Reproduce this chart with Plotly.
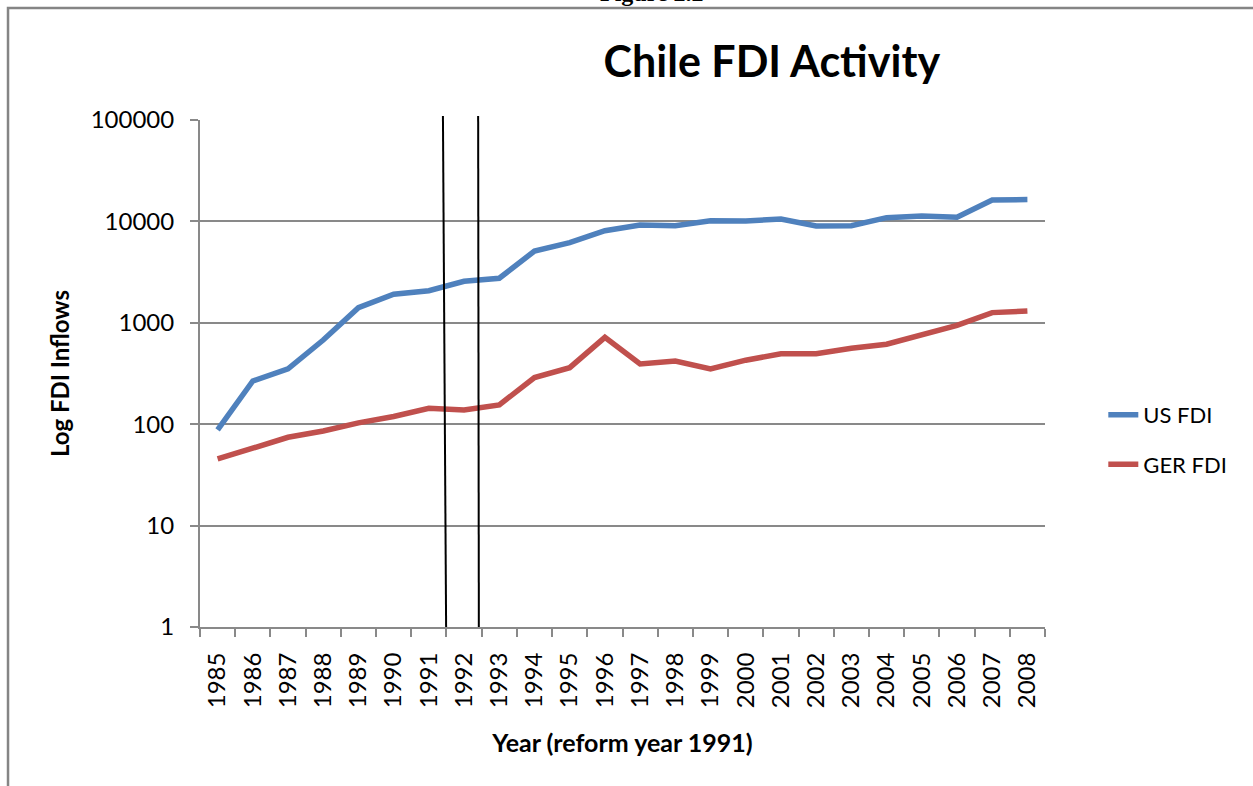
import plotly.graph_objects as go

years = [str(y) for y in range(1985, 2009)]
us_fdi = [88, 267, 352, 676, 1410, 1910, 2074, 2567, 2748, 5100, 6170, 8090,
          9210, 9080, 10160, 10090, 10570, 9010, 9080, 10880, 11300, 10970, 16260, 16400]
ger_fdi = [45.4, 57.8, 74.3, 85.7, 103, 119, 143.6, 138, 155, 288, 361, 719,
           393, 420, 350, 428, 495, 495, 560, 614, 754, 945, 1260, 1307]
# reform marker lines (category index positions: bottom, top)
reform_lines = [(6.49, 6.40), (7.42, 7.40)]

BLUE = "#4F81BD"
RED = "#C0504D"
GRID = "#898989"
FONT = "Lato"

fig = go.Figure()
fig.add_trace(go.Scatter(x=years, y=us_fdi, mode="lines", name="US FDI",
                         line=dict(color=BLUE, width=5.5), legendgroup="a"))
fig.add_trace(go.Scatter(x=years, y=ger_fdi, mode="lines", name="GER FDI",
                         line=dict(color=RED, width=5.5), legendgroup="b"))

shapes = []
for xb, xt in reform_lines:
    shapes.append(dict(type="line", xref="x", yref="paper", x0=xb, x1=xt,
                       y0=0, y1=1.008, line=dict(color="black", width=2)))
# outer frame (left and top border)
shapes.append(dict(type="path", xref="paper", yref="paper",
                   path="M -0.2272,-0.35 L -0.2272,1.2209 L 1.3,1.2209",
                   line=dict(color="#858585", width=2.5)))

fig.update_layout(
    width=1253, height=786,
    margin=dict(l=200, r=208, t=120, b=159),
    paper_bgcolor="white", plot_bgcolor="white",
    font=dict(family=FONT, color="black"),
    title=dict(text="<b>Chile FDI Activity</b>", x=0.616, xanchor="center",
               y=0.921, yanchor="middle", font=dict(size=43, family=FONT)),
    showlegend=True,
    legend=dict(x=1.069, y=0.369, xanchor="left", yanchor="middle",
                font=dict(size=22, family=FONT), tracegroupgap=18,
                bgcolor="rgba(0,0,0,0)"),
    shapes=shapes,
    annotations=[dict(text="<b>Figure 2.2</b>", xref="paper", yref="paper",
                      x=0.535, y=1.2505, yanchor="middle", showarrow=False,
                      font=dict(family="Liberation Serif", size=24, color="black"))],
)
fig.update_xaxes(
    type="category", tickangle=-90, tickson="boundaries",
    ticks="outside", ticklen=8, tickcolor=GRID, tickwidth=2,
    ticklabelstandoff=14,
    showline=True, linecolor=GRID, linewidth=2, showgrid=False,
    tickfont=dict(size=24, family=FONT),
    title=dict(text="<b>Year (reform year 1991)</b>", font=dict(size=25, family=FONT),
               standoff=27),
    range=[-0.5, 23.5],
)
fig.update_yaxes(
    type="log", range=[0, 5], dtick=1, tickformat="d",
    ticks="outside", ticklen=8, tickcolor=GRID, tickwidth=2,
    ticklabelstandoff=11,
    showline=True, linecolor=GRID, linewidth=2,
    showgrid=True, gridcolor=GRID, gridwidth=2,
    tickfont=dict(size=24, family=FONT),
    title=dict(text="<b>Log FDI Inflows</b>", font=dict(size=24, family=FONT),
               standoff=14),
    zeroline=False,
)

fig.write_html("out.html", config={"displayModeBar": False},
               post_script="document.body.style.margin='0';")
